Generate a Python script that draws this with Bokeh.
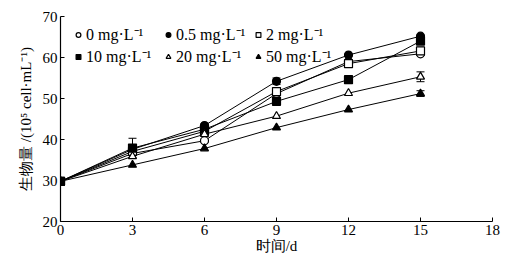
from bokeh.plotting import figure
from bokeh.models import Legend, LegendItem, Whisker, ColumnDataSource, FixedTicker, Range1d, TeeHead
from bokeh.embed import file_html
from bokeh.resources import INLINE

days = [0, 3, 6, 9, 12, 15]
labels = ["0 mg·L⁻¹", "0.5 mg·L⁻¹", "2 mg·L⁻¹", "10 mg·L⁻¹", "20 mg·L⁻¹", "50 mg·L⁻¹"]
s0 = [29.8, 36.6, 39.7, 51.2, 59.0, 60.9]
s05 = [29.8, 37.6, 43.4, 54.2, 60.6, 65.2]
s2 = [29.8, 37.1, 42.0, 51.7, 58.5, 61.6]
s10 = [29.8, 37.9, 42.5, 49.3, 54.6, 64.0]
s20 = [29.8, 35.9, 41.3, 45.7, 51.3, 55.3]
s50 = [29.8, 33.8, 37.8, 42.9, 47.3, 51.2]
err0 = [0, 0, 0.4, 0, 0, 0.4]
err05 = [0, 0, 0.4, 0.8, 0, 0]
err2 = [0, 0, 0, 0, 0, 0.9]
err10 = [0, 2.4, 0, 0, 0, 0]
err20 = [0, 0, 0, 0, 0, 1.2]
err50 = [0, 0, 0, 0, 0, 0.7]
x_ticks = [0, 3, 6, 9, 12, 15, 18]
y_ticks = [20, 30, 40, 50, 60, 70]

SERIF = "Liberation Serif"

p = figure(width=512, height=264, output_backend="svg", toolbar_location=None,
           x_range=Range1d(0, 18), y_range=Range1d(20, 70))
p.min_border_left = 60
p.min_border_right = 20
p.min_border_top = 16
p.min_border_bottom = 43
p.grid.visible = False
p.outline_line_color = None
p.background_fill_color = "white"
p.border_fill_color = "white"

for ax in (p.xaxis[0], p.yaxis[0]):
    ax.major_tick_in = 4
    ax.major_tick_out = 0
    ax.minor_tick_in = 0
    ax.minor_tick_out = 0
    ax.axis_line_color = "black"
    ax.axis_line_width = 1.2
    ax.major_tick_line_color = "black"
    ax.major_label_text_font = SERIF
    ax.major_label_text_font_size = "15px"
    ax.major_label_text_color = "black"
    ax.axis_label_text_font = SERIF
    ax.axis_label_text_font_size = "15px"
    ax.axis_label_text_font_style = "normal"
    ax.axis_label_text_color = "black"

p.xaxis.ticker = FixedTicker(ticks=x_ticks)
p.yaxis.ticker = FixedTicker(ticks=y_ticks)
p.xaxis.axis_label = "时间/d"
p.yaxis.axis_label = "生物量 /(10⁵ cell·mL⁻¹)"
p.xaxis.major_label_standoff = 3
p.xaxis.axis_label_standoff = 0
p.yaxis.major_label_standoff = 3
p.yaxis.axis_label_standoff = 6

series = [s0, s05, s2, s10, s20, s50]
errs = [err0, err05, err2, err10, err20, err50]
markers = ["circle", "circle", "square", "square", "triangle", "triangle"]
fills = ["white", "black", "white", "black", "white", "black"]
sizes = [8, 8, 8, 8, 8, 8]

items = []
for ys, er, mk, fc, sz, lab in zip(series, errs, markers, fills, sizes, labels):
    p.line(days, ys, line_color="black", line_width=1)
    xs = [d for d, e in zip(days, er) if e > 0]
    up = [y + e for y, e in zip(ys, er) if e > 0]
    lo = [y - e for y, e in zip(ys, er) if e > 0]
    if xs:
        src = ColumnDataSource(dict(x=xs, upper=up, lower=lo))
        w = Whisker(source=src, base="x", upper="upper", lower="lower", line_color="black", line_width=1,
                    upper_head=TeeHead(size=8, line_color="black"), lower_head=TeeHead(size=8, line_color="black"))
        p.add_layout(w)
    r = p.scatter(days, ys, marker=mk, size=sz, fill_color=fc, line_color="black", line_width=1.2)
    items.append(LegendItem(label=lab, renderers=[r]))

col_x = [12, 102, 192]
for ci in range(3):
    leg = Legend(items=[items[ci], items[ci + 3]], location=(col_x[ci], 154), orientation="vertical")
    leg.border_line_color = None
    leg.background_fill_alpha = 0
    leg.padding = 0
    leg.margin = 0
    leg.spacing = 0
    leg.label_height = 21
    leg.glyph_height = 21
    leg.glyph_width = 12
    leg.label_standoff = 2
    leg.label_text_font = SERIF
    leg.label_text_font_size = "16px"
    leg.label_text_color = "black"
    p.add_layout(leg)

open("out.html", "w").write(file_html(p, INLINE))
